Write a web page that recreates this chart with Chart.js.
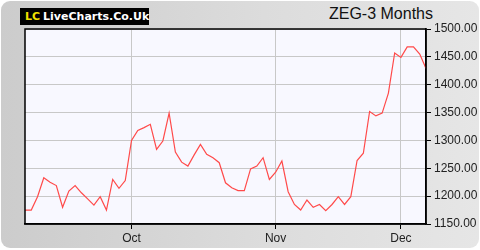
<!DOCTYPE html>
<html>
<head>
<meta charset="utf-8">
<script src="https://cdn.jsdelivr.net/npm/chart.js@4/dist/chart.umd.min.js"></script>
<style>
  html, body { margin: 0; padding: 0; background: #fff; }
  #wrap { position: relative; width: 480px; height: 250px; overflow: hidden; }
  #panel {
    position: absolute; left: 1px; top: 1px; width: 478px; height: 247px;
    border-radius: 9px;
    background: linear-gradient(to right, #cccccc 0%, #dcdcdc 55%, #e6e6e6 100%);
  }
  #logo {
    position: absolute; left: 20px; top: 8px; width: 129px; height: 17px;
    background: #000; color: #fff;
    font: bold 11px "DejaVu Sans", sans-serif; line-height: 17px;
    white-space: nowrap; padding-left: 5px; box-sizing: border-box;
  }
  #logo b { color: #f0e000; margin-right: 3px; }
  #title {
    position: absolute; right: 47px; top: 5px;
    font: 16px "Liberation Sans", Arial, sans-serif; color: #111;
  }
  canvas { position: absolute; left: 0; top: 0; }
</style>
</head>
<body>
<div id="wrap">
  <div id="panel"></div>
  <div id="logo"><b>LC</b>LiveCharts.Co.Uk</div>
  <div id="title">ZEG-3 Months</div>
  <canvas id="chart" width="480" height="250"></canvas>
</div>
<script>
// price series (one point per trading day)
const prices = [
  1175, 1175, 1199, 1233, 1225, 1219, 1180, 1209, 1219, 1206,
  1195, 1184, 1199, 1175, 1230, 1214, 1228, 1300, 1318, 1323,
  1329, 1284, 1299, 1349, 1279, 1261, 1254, 1274, 1293, 1275,
  1269, 1260, 1224, 1215, 1210, 1210, 1249, 1254, 1269, 1230,
  1243, 1263, 1208, 1185, 1175, 1193, 1180, 1185, 1174, 1185,
  1199, 1185, 1199, 1264, 1277, 1352, 1344, 1349, 1385, 1457,
  1449, 1468, 1468, 1455, 1429
];
const days = prices.map((_, i) => i);
const monthLabels = ['Oct', 'Nov', 'Dec'];
const monthStart = [17, 40, 60];
const yMin = 1150, yMax = 1500, yStep = 50;

// 플롯 영역 배경 + 테두리
const plotFrame = {
  id: 'plotFrame',
  beforeDraw(chart) {
    const { ctx, chartArea: a } = chart;
    ctx.save();
    ctx.fillStyle = '#f8f8ff';
    ctx.fillRect(a.left, a.top, a.right - a.left, a.bottom - a.top);
    ctx.restore();
  },
  afterDraw(chart) {
    const { ctx, chartArea: a } = chart;
    ctx.save();
    ctx.strokeStyle = '#000';
    ctx.lineWidth = 1.5;
    ctx.strokeRect(a.left, a.top, a.right - a.left, a.bottom - a.top);
    ctx.restore();
  }
};

new Chart(document.getElementById('chart'), {
  type: 'line',
  data: {
    labels: days,
    datasets: [{
      data: prices,
      borderColor: '#ff4a4a',
      borderWidth: 1.2,
      pointRadius: 0,
      tension: 0,
      fill: false
    }]
  },
  options: {
    responsive: false,
    animation: false,
    layout: { padding: { left: 25, top: 29, right: 0, bottom: 0 } },
    plugins: { legend: { display: false }, tooltip: { enabled: false } },
    scales: {
      x: {
        type: 'category',
        offset: false,
        afterBuildTicks(scale) {
          scale.ticks = scale.ticks.filter(t => monthStart.includes(t.value));
        },
        afterFit(scale) { scale.height = 26; },
        grid: { color: '#c8c8c8', lineWidth: 1, tickColor: '#000', tickLength: 5 },
        border: { color: '#000', width: 1.5 },
        ticks: {
          autoSkip: false,
          maxRotation: 0,
          padding: 2,
          color: '#222',
          font: { family: '"Liberation Sans", Arial, sans-serif', size: 12 },
          callback(v) { return monthLabels[monthStart.indexOf(v)]; }
        }
      },
      y: {
        position: 'right',
        min: yMin,
        max: yMax,
        afterFit(scale) { scale.width = 54; },
        grid: { color: '#c8c8c8', lineWidth: 1, tickColor: '#000', tickLength: 5 },
        border: { color: '#000', width: 1.5 },
        ticks: {
          stepSize: yStep,
          padding: 3,
          color: '#222',
          font: { family: '"Liberation Sans", Arial, sans-serif', size: 12 },
          callback(v) { return v.toFixed(2); }
        }
      }
    }
  },
  plugins: [plotFrame]
});
</script>
</body>
</html>
